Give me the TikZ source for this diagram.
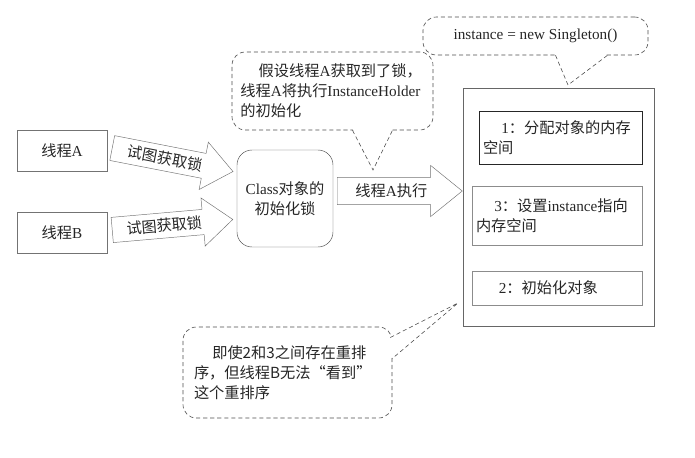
\documentclass[tikz,border=0pt]{standalone}
\usepackage{fontspec}
\setmainfont{Liberation Serif}
\newfontfamily\zhfont{Noto Sans CJK SC}
\newcommand{\zh}[1]{{\zhfont #1}}
\usetikzlibrary{shapes.arrows,calc}

\begin{document}
\begin{tikzpicture}[x=0.3mm, y=-0.3mm,
    every node/.style={font=\fontsize{13}{17}\selectfont, text=black!85},
    thread/.style={draw=black!55, minimum width=27mm, minimum height=12.3mm},
    lockbox/.style={draw=black!70, rounded corners=4.5mm, minimum width=28.8mm, minimum height=29.1mm, align=center},
    blockarr/.style={draw=black!55, single arrow, single arrow tip angle=78, inner xsep=1mm, inner ysep=1.6mm, single arrow head extend=3.45mm, anchor=tail},
    note/.style={draw=black!70, line width=0.5pt, dash pattern=on 3.5pt off 2.5pt, rounded corners=4mm, align=left},
    pointer/.style={draw=black!70, line width=0.5pt, dash pattern=on 3.5pt off 2.5pt},
    membox/.style={draw=black!45, align=left, inner xsep=1.2mm}
]
\useasboundingbox (0,0) rectangle (695,457);

% threads and the class lock
\node[thread] (thA) at (62,151) {\zh{线程}A};
\node[thread] (thB) at (62,233) {\zh{线程}B};
\node[lockbox] (lock) at (285,198.5) {Class\zh{对象的}\\\zh{初始化锁}};

\node[blockarr, rotate=-11, minimum height=36.9mm] (tryA) at (112,148) {\zh{试图获取锁}};
\node[blockarr, rotate=5, minimum height=36.3mm] (tryB) at (112,230) {\zh{试图获取锁}};
\node[blockarr, inner ysep=1.9mm, single arrow head extend=3.6mm, minimum height=37.5mm] (exec) at (337,191) {\zh{线程}A\zh{执行}};

% instance creation steps
\node[draw=black!60, minimum width=57.3mm, minimum height=71.4mm] (mem) at (558.5,207) {};
\node[membox, draw=black!85, line width=0.8pt, text width=46.5mm, minimum height=15.9mm] (s1) at (560.5,137.5)
    {\hspace*{1.2em}1\zh{：分配对象的内存}\\\zh{空间}};
\node[membox, text width=48.6mm, minimum height=17.7mm] (s3) at (557,215.5)
    {\hspace*{1.2em}3\zh{：设置}instance\zh{指向}\\\zh{内存空间}};
\node[membox, text width=48.6mm, minimum height=10.2mm] (s2) at (557,288)
    {\hspace*{1.5em}2\zh{：初始化对象}};

% callouts
\node[note, text width=55.3mm, inner xsep=2.5mm, minimum height=23.4mm] (noteA) at (332.5,91)
    {\hspace*{1.2em}\zh{假设线程}A\zh{获取到了锁，}\\\zh{线程}A\zh{将执行}InstanceHolder\\\zh{的初始化}};
\node[note, minimum width=67.5mm, minimum height=11.4mm] (noteI) at (535.5,36) {instance = new Singleton()};
\node[note, text width=56.1mm, inner xsep=3.3mm, minimum height=27.3mm] (noteB) at (287.5,372.5)
    {\hspace*{1.2em}\zh{即使2和3之间存在重排}\\\zh{序，但线程B无法“看到”}\\\zh{这个重排序}};

\coordinate (tipA) at (373,170);
\coordinate (tipI) at (568,85);
\coordinate (tipB) at (458,303);

\fill[white] ($(noteA.south)+(20,-2)$) -- (tipA) -- ($(noteA.south)+(60,-2)$) -- cycle;
\draw[pointer] ($(noteA.south)+(20,0)$) -- (tipA) -- ($(noteA.south)+(60,0)$);
\fill[white] ($(noteI.south)+(20,-2)$) -- (tipI) -- ($(noteI.south)+(72,-2)$) -- cycle;
\draw[pointer] ($(noteI.south)+(20,0)$) -- (tipI) -- ($(noteI.south)+(72,0)$);
\fill[white] ($(noteB.east)+(-4,-35)$) -- (tipB) -- ($(noteB.east)+(-2,-14)$) -- cycle;
\draw[pointer] ($(noteB.east)+(-2,-35)$) -- (tipB) -- ($(noteB.east)+(0,-14)$);
\end{tikzpicture}
\end{document}
